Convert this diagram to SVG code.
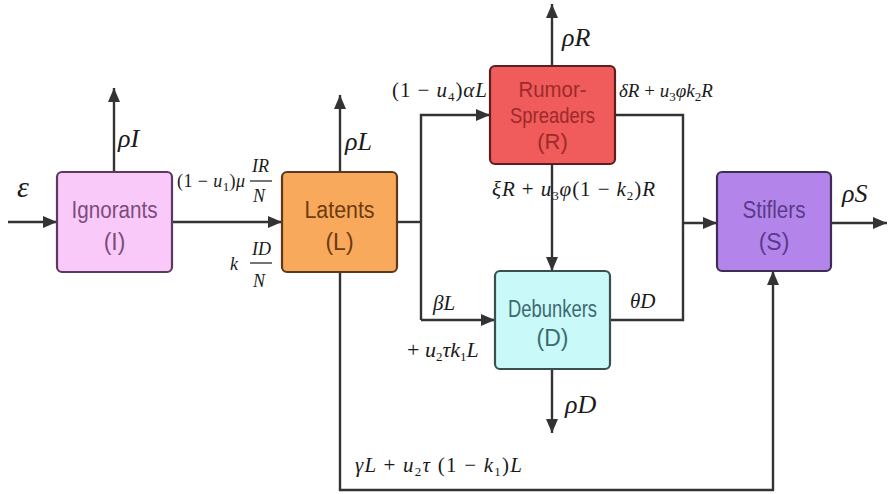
<svg xmlns="http://www.w3.org/2000/svg" width="888" height="494" viewBox="0 0 888 494">
<style>
.box{stroke-width:2.2}
.bt{font-family:"Liberation Sans","Noto Sans",Arial,sans-serif;font-size:23px;text-anchor:middle}
.m{font-family:"Liberation Serif","Times New Roman",serif;font-style:italic;fill:#1a1a1a}
.n{font-style:normal}
.big{font-size:26px}
.mid{font-size:21px}
.sm{font-size:18px}
.sub{font-size:13px;font-style:normal}
.ln{fill:none;stroke:#333;stroke-width:2.4}
</style>
<defs>
<marker id="ah" viewBox="0 0 14 12" refX="14" refY="6" markerWidth="14" markerHeight="12" markerUnits="userSpaceOnUse" orient="auto">
<path d="M0,0 L14,6 L0,12 z" fill="#333"/>
</marker>
</defs>
<rect width="888" height="494" fill="#fff"/>
<g id="connectors">
<path class="ln" d="M8,222 H57" marker-end="url(#ah)"/>
<path class="ln" d="M172,222 H282" marker-end="url(#ah)"/>
<path class="ln" d="M114,172 V88" marker-end="url(#ah)"/>
<path class="ln" d="M340,172 V95" marker-end="url(#ah)"/>
<path class="ln" d="M397,222 H421"/>
<path class="ln" d="M421,320 V115 H490" marker-end="url(#ah)"/>
<path class="ln" d="M421,320 H495" marker-end="url(#ah)"/>
<path class="ln" d="M552,66 V4" marker-end="url(#ah)"/>
<path class="ln" d="M615,115 H683 V320 H610"/>
<path class="ln" d="M683,223 H717" marker-end="url(#ah)"/>
<path class="ln" d="M552,164 V271" marker-end="url(#ah)"/>
<path class="ln" d="M552,369 V433" marker-end="url(#ah)"/>
<path class="ln" d="M831,223 H887" marker-end="url(#ah)"/>
<path class="ln" d="M340,272 V490 H773 V271" marker-end="url(#ah)"/>
</g>
<g id="node-I">
<rect class="box" x="57" y="172" width="115" height="100" rx="5" fill="#f9c9fa" stroke="#5b3a5b"/>
<text class="bt" fill="#7a4d7a"><tspan x="114.5" y="218" textLength="86" lengthAdjust="spacingAndGlyphs">Ignorants</tspan><tspan x="114.5" y="250">(I)</tspan></text>
</g>
<g id="node-L">
<rect class="box" x="282" y="172" width="115" height="100" rx="5" fill="#f9a95b" stroke="#5a3a1a"/>
<text class="bt" fill="#6b3b10"><tspan x="339.5" y="218" textLength="70" lengthAdjust="spacingAndGlyphs">Latents</tspan><tspan x="339.5" y="250">(L)</tspan></text>
</g>
<g id="node-R">
<rect class="box" x="490" y="66" width="125" height="98" rx="5" fill="#f05b5b" stroke="#5a2020"/>
<text class="bt" fill="#9e2a2a" style="font-size:22px"><tspan x="552.5" y="97" textLength="68" lengthAdjust="spacingAndGlyphs">Rumor-</tspan><tspan x="552.5" y="123" textLength="85" lengthAdjust="spacingAndGlyphs">Spreaders</tspan><tspan x="552.5" y="149">(R)</tspan></text>
</g>
<g id="node-D">
<rect class="box" x="495" y="271" width="115" height="98" rx="5" fill="#c9f9f9" stroke="#3a5050"/>
<text class="bt" fill="#3d6a70"><tspan x="552.5" y="317" textLength="89" lengthAdjust="spacingAndGlyphs">Debunkers</tspan><tspan x="552.5" y="346">(D)</tspan></text>
</g>
<g id="node-S">
<rect class="box" x="717" y="172" width="114" height="99" rx="5" fill="#b385ea" stroke="#3d2d55"/>
<text class="bt" fill="#5a3a8a"><tspan x="774" y="218" textLength="63" lengthAdjust="spacingAndGlyphs">Stiflers</tspan><tspan x="774" y="250">(S)</tspan></text>
</g>
<g id="labels">
<text class="m" x="17" y="197" font-size="30">ε</text>
<text class="m big" x="118" y="147">ρI</text>
<text class="m big" x="345" y="150">ρL</text>
<text class="m big" x="562" y="46">ρR</text>
<text class="m big" x="565" y="413">ρD</text>
<text class="m big" x="842" y="202">ρS</text>
<text class="m sm" x="177" y="187" textLength="68"><tspan class="n">(1 − </tspan>u<tspan class="sub" dy="4">1</tspan><tspan class="n" dy="-4">)</tspan>μ</text>
<text class="m sm" x="252" y="172">IR</text>
<line x1="250" y1="181" x2="272" y2="181" stroke="#1a1a1a" stroke-width="1.2"/>
<text class="m sm" x="253" y="202">N</text>
<text class="m sm" x="230" y="270">k</text>
<text class="m sm" x="252" y="255">ID</text>
<line x1="250" y1="263" x2="272" y2="263" stroke="#1a1a1a" stroke-width="1.2"/>
<text class="m sm" x="253" y="287">N</text>
<text class="m mid" x="392" y="97" textLength="95"><tspan class="n">(1 − </tspan>u<tspan class="sub" dy="4">4</tspan><tspan class="n" dy="-4">)</tspan>αL</text>
<text class="m" x="619" y="97" font-size="19">δR <tspan class="n">+ </tspan>u<tspan class="sub" dy="4">3</tspan><tspan dy="-4">φk</tspan><tspan class="sub" dy="4">2</tspan><tspan dy="-4">R</tspan></text>
<text class="m mid" x="492" y="196" textLength="163">ξR <tspan class="n">+ </tspan>u<tspan class="sub" dy="4">3</tspan><tspan dy="-4">φ</tspan><tspan class="n">(1 − </tspan>k<tspan class="sub" dy="4">2</tspan><tspan class="n" dy="-4">)</tspan>R</text>
<text class="m mid" x="433" y="310">βL</text>
<text class="m" x="407" y="357" font-size="22"><tspan class="n">+ </tspan>u<tspan class="sub" dy="4">2</tspan><tspan dy="-4">τk</tspan><tspan class="sub" dy="4">1</tspan><tspan dy="-4">L</tspan></text>
<text class="m mid" x="630" y="308">θD</text>
<text class="m mid" x="355" y="472" textLength="167">γL <tspan class="n">+ </tspan>u<tspan class="sub" dy="4">2</tspan><tspan dy="-4">τ </tspan><tspan class="n">(1 − </tspan>k<tspan class="sub" dy="4">1</tspan><tspan class="n" dy="-4">)</tspan>L</text>
</g>
</svg>
